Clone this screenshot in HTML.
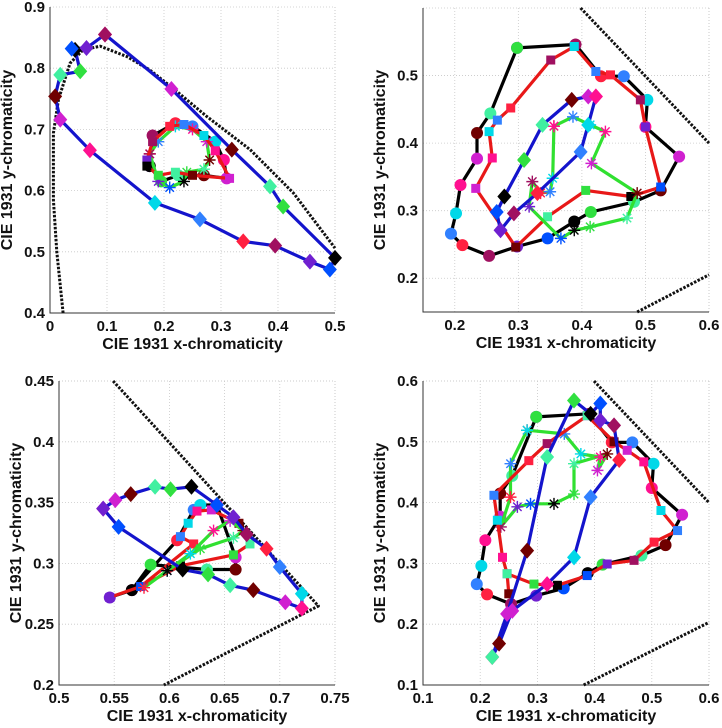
<!DOCTYPE html>
<html><head><meta charset="utf-8"><style>
body{margin:0;background:#fff;}
svg{display:block;font-family:"Liberation Sans",sans-serif;}
</style></head><body>
<svg id="chart" width="722" height="728" viewBox="0 0 722 728"></svg>
<script>
// ---- data ----
const p1Blue=[[0.0965,0.855],[0.213,0.766],[0.319,0.667],[0.386,0.607],[0.409,0.574],[0.5,0.49],[0.491,0.471],[0.456,0.484],[0.395,0.51],[0.339,0.517],[0.263,0.553],[0.184,0.58],[0.07,0.666],[0.018,0.716],[0.009,0.754],[0.018,0.789],[0.053,0.795],[0.044,0.83],[0.038,0.832],[0.064,0.833],[0.0965,0.855]];
const p1Red=[[0.17,0.65],[0.18,0.68],[0.21,0.705],[0.235,0.708],[0.27,0.69],[0.29,0.665],[0.315,0.62],[0.25,0.625],[0.22,0.63],[0.19,0.625],[0.17,0.64]];
const p1Black=[[0.175,0.64],[0.18,0.69],[0.22,0.71],[0.25,0.705],[0.29,0.68],[0.305,0.65],[0.31,0.62],[0.27,0.625],[0.225,0.625],[0.195,0.615],[0.175,0.64]];
const p1Green=[[0.175,0.66],[0.19,0.68],[0.22,0.705],[0.25,0.7],[0.275,0.68],[0.28,0.65],[0.27,0.635],[0.24,0.63],[0.235,0.615],[0.21,0.605],[0.19,0.615],[0.175,0.66]];
const p1Locus=[[0.023,0.4],[0.012,0.5],[0.006,0.585],[0.006,0.694],[0.015,0.749],[0.035,0.808],[0.058,0.83],[0.088,0.836],[0.135,0.819],[0.175,0.797],[0.216,0.767],[0.275,0.721],[0.351,0.667],[0.427,0.596],[0.5,0.506]];

const p2Black=[[0.298,0.541],[0.39,0.546],[0.43,0.499],[0.466,0.499],[0.503,0.464],[0.5,0.424],[0.553,0.38],[0.524,0.33],[0.482,0.313],[0.414,0.298],[0.388,0.284],[0.346,0.259],[0.298,0.247],[0.254,0.233],[0.212,0.249],[0.194,0.266],[0.202,0.296],[0.209,0.338],[0.235,0.377],[0.235,0.415],[0.256,0.444],[0.298,0.541]];
const p2Red=[[0.388,0.543],[0.351,0.523],[0.288,0.452],[0.267,0.434],[0.254,0.417],[0.259,0.378],[0.233,0.333],[0.296,0.246],[0.346,0.291],[0.406,0.33],[0.477,0.321],[0.524,0.335],[0.5,0.424],[0.492,0.464],[0.445,0.501],[0.422,0.506],[0.388,0.543]];
const p2Blue=[[0.422,0.469],[0.41,0.469],[0.384,0.464],[0.338,0.427],[0.309,0.375],[0.278,0.321],[0.266,0.298],[0.272,0.271],[0.293,0.296],[0.33,0.326],[0.398,0.387],[0.41,0.427],[0.422,0.469]];
const p2Green=[[0.356,0.425],[0.386,0.439],[0.413,0.427],[0.437,0.417],[0.415,0.37],[0.487,0.326],[0.471,0.289],[0.413,0.276],[0.388,0.271],[0.367,0.259],[0.317,0.306],[0.322,0.343],[0.335,0.326],[0.35,0.328],[0.354,0.348],[0.356,0.425]];
const p2Gamut=[[0.398,0.6],[0.6,0.4]];
const p2Gamut2=[[0.487,0.15],[0.6,0.205]];

const p3Blue=[[0.54,0.345],[0.551,0.352],[0.565,0.357],[0.587,0.363],[0.601,0.361],[0.62,0.363],[0.643,0.348],[0.658,0.338],[0.67,0.324],[0.688,0.312],[0.7,0.297],[0.72,0.275],[0.72,0.263],[0.705,0.268],[0.676,0.278],[0.655,0.282],[0.635,0.291],[0.612,0.295],[0.554,0.33],[0.54,0.345]];
const p3Black=[[0.546,0.272],[0.566,0.278],[0.607,0.319],[0.622,0.344],[0.628,0.348],[0.643,0.348],[0.66,0.305],[0.66,0.295],[0.634,0.295],[0.583,0.299],[0.566,0.278]];
const p3Red=[[0.546,0.272],[0.574,0.281],[0.622,0.316],[0.61,0.322],[0.617,0.333],[0.625,0.343],[0.638,0.344],[0.663,0.333],[0.673,0.316],[0.658,0.307],[0.61,0.298],[0.574,0.281]];
const p3Green=[[0.577,0.28],[0.598,0.294],[0.619,0.308],[0.64,0.327],[0.655,0.335],[0.667,0.327],[0.658,0.321],[0.628,0.312],[0.598,0.294]];
const p3Gamut=[[0.549,0.45],[0.735,0.265],[0.595,0.2]];

const p4Black=p2Black;
const p4Red=[[0.387,0.543],[0.317,0.497],[0.285,0.469],[0.224,0.412],[0.23,0.371],[0.239,0.31],[0.247,0.283],[0.25,0.25],[0.247,0.283],[0.294,0.266],[0.335,0.264],[0.387,0.28],[0.422,0.299],[0.469,0.305],[0.504,0.335],[0.545,0.354],[0.516,0.387],[0.486,0.467],[0.457,0.486],[0.434,0.5],[0.387,0.543]];
const p4Blue=[[0.221,0.146],[0.247,0.217],[0.282,0.321],[0.317,0.475],[0.364,0.568],[0.393,0.546],[0.41,0.563],[0.41,0.535],[0.434,0.527],[0.443,0.47],[0.393,0.409],[0.364,0.31],[0.317,0.266],[0.256,0.222],[0.233,0.168],[0.221,0.146]];
const p4Green=[[0.282,0.519],[0.347,0.513],[0.376,0.48],[0.41,0.475],[0.405,0.453],[0.422,0.48],[0.364,0.464],[0.364,0.414],[0.329,0.398],[0.288,0.398],[0.265,0.393],[0.236,0.36],[0.253,0.409],[0.253,0.464],[0.282,0.519]];
const p4Gamut=[[0.399,0.6],[0.6,0.4]];
const p4Gamut2=[[0.381,0.1],[0.6,0.203]];

const ticks1x=[0,0.1,0.2,0.3,0.4,0.5], ticks1y=[0.4,0.5,0.6,0.7,0.8,0.9];
const ticks2x=[0.2,0.3,0.4,0.5,0.6], ticks2y=[0.2,0.3,0.4,0.5];
const ticks3x=[0.5,0.55,0.6,0.65,0.7,0.75], ticks3y=[0.2,0.25,0.3,0.35,0.4,0.45];
const ticks4x=[0.1,0.2,0.3,0.4,0.5,0.6], ticks4y=[0.1,0.2,0.3,0.4,0.5,0.6];

const palette=['#d020d0','#0050ff','#00d8e8','#30e040','#ff2040','#700000','#7020d0','#ff1090','#000000','#3080ff','#40f0a0','#a01060'];

// ---- drawing ----
const NS='http://www.w3.org/2000/svg';
const svg=document.getElementById('chart');
function mk(tag,attrs,parent){const e=document.createElementNS(NS,tag);for(const k in attrs)e.setAttribute(k,attrs[k]);(parent||svg).appendChild(e);return e;}

const panels=[
 {name:'top-left',x0:50,x1:335,y0:7,y1:313,xmin:0,xmax:0.5,ymin:0.4,ymax:0.9,tx:ticks1x,ty:ticks1y,
  series:[{d:p1Locus,c:'#111',m:'none',dash:true},{d:p1Black,c:'#000',m:'circle'},{d:p1Green,c:'#30e030',m:'star'},{d:p1Red,c:'#e81818',m:'square'},{d:p1Blue,c:'#1414cc',m:'diamond'}]},
 {name:'top-right',x0:423,x1:709,y0:8,y1:312,xmin:0.15,xmax:0.6,ymin:0.15,ymax:0.6,tx:ticks2x,ty:ticks2y,
  series:[{d:p2Gamut,c:'#111',m:'none',dash:true},{d:p2Gamut2,c:'#111',m:'none',dash:true},{d:p2Black,c:'#000',m:'circle'},{d:p2Red,c:'#e81818',m:'square'},{d:p2Green,c:'#30e030',m:'star'},{d:p2Blue,c:'#1414cc',m:'diamond'}]},
 {name:'bottom-left',x0:59,x1:335,y0:381,y1:685,xmin:0.5,xmax:0.75,ymin:0.2,ymax:0.45,tx:ticks3x,ty:ticks3y,
  series:[{d:p3Gamut,c:'#111',m:'none',dash:true},{d:p3Black,c:'#000',m:'circle'},{d:p3Red,c:'#e81818',m:'square'},{d:p3Green,c:'#30e030',m:'star'},{d:p3Blue,c:'#1414cc',m:'diamond'}]},
 {name:'bottom-right',x0:423,x1:709,y0:381,y1:685,xmin:0.1,xmax:0.6,ymin:0.1,ymax:0.6,tx:ticks4x,ty:ticks4y,
  series:[{d:p4Gamut,c:'#111',m:'none',dash:true},{d:p4Gamut2,c:'#111',m:'none',dash:true},{d:p4Black,c:'#000',m:'circle'},{d:p4Green,c:'#30e030',m:'star'},{d:p4Red,c:'#e81818',m:'square'},{d:p4Blue,c:'#1414cc',m:'diamond'}]}
];

panels.forEach(P=>{
 const g=mk('g',{});
 
 
 const sx=v=>P.x0+(v-P.xmin)/(P.xmax-P.xmin)*(P.x1-P.x0);
 const sy=v=>P.y1-(v-P.ymin)/(P.ymax-P.ymin)*(P.y1-P.y0);
 const clip='clip-'+P.name;
 const cp=mk('clipPath',{id:clip},g);mk('rect',{x:P.x0-8,y:P.y0-8,width:P.x1-P.x0+16,height:P.y1-P.y0+16},cp);
 P.tx.forEach(t=>{const l=mk('line',{x1:sx(t),x2:sx(t),y1:P.y0,y2:P.y1,stroke:'#c8c8c8','stroke-width':0.8,'stroke-dasharray':'1,2'},g);
  });
 P.ty.forEach(t=>{const l=mk('line',{x1:P.x0,x2:P.x1,y1:sy(t),y2:sy(t),stroke:'#c8c8c8','stroke-width':0.8,'stroke-dasharray':'1,2'},g);
  });
 if(P.name!=='top-left'){mk('line',{x1:P.x0,x2:P.x1,y1:P.y0,y2:P.y0,stroke:'#c8c8c8','stroke-width':0.8,'stroke-dasharray':'1,2'},g);}
 mk('line',{x1:P.x1,x2:P.x1,y1:P.y0,y2:P.y1,stroke:'#c8c8c8','stroke-width':0.8,'stroke-dasharray':'1,2'},g);
 const ax=mk('path',{d:`M${P.x0},${P.y0}V${P.y1}H${P.x1}`,fill:'none',stroke:'#333','stroke-width':1},g);
 
 P.tx.forEach(t=>{const e=mk('text',{x:sx(t),y:P.y1+18,'text-anchor':'middle','font-size':15,'font-weight':'bold',fill:'#111'},g);e.textContent=String(t);
  });
 P.ty.forEach(t=>{const e=mk('text',{x:P.x0-5,y:sy(t)+5,'text-anchor':'end','font-size':15,'font-weight':'bold',fill:'#111'},g);e.textContent=String(t);
  });
 const xl=mk('text',{x:(P.x0+P.x1)/2,y:P.y1+36,'text-anchor':'middle','font-size':16,'font-weight':'bold',fill:'#111'},g);
 xl.textContent='CIE 1931 x-chromaticity';
 
 const yx=P.x0-38, yy=(P.y0+P.y1)/2;
 const yl=mk('text',{x:yx,y:yy,'text-anchor':'middle','font-size':16,'font-weight':'bold',fill:'#111',transform:`rotate(-90 ${yx} ${yy})`},g);
 yl.textContent='CIE 1931 y-chromaticity';
 
 const pg=mk('g',{'clip-path':`url(#${clip})`},g);
 P.series.forEach(S=>{
  const pts=S.d.map(p=>sx(p[0]).toFixed(1)+','+sy(p[1]).toFixed(1)).join(' ');
  const line=mk('polyline',{points:pts,fill:'none',stroke:S.c,'stroke-width':S.dash?3:3.2,'stroke-linejoin':'round'},pg);
  if(S.dash)line.setAttribute('stroke-dasharray','2.5,1.5');
  
  
  if(S.m==='none')return;
  S.d.forEach((p,i)=>{
   const cx=sx(p[0]),cy=sy(p[1]),col=palette[(i*5+S.m.length)%palette.length];let e;
   if(S.m==='circle')e=mk('circle',{cx,cy,r:6,fill:col},pg);
   else if(S.m==='square')e=mk('rect',{x:cx-4.5,y:cy-4.5,width:9,height:9,fill:col},pg);
   else if(S.m==='diamond')e=mk('polygon',{points:`${cx},${cy-8} ${cx+7},${cy} ${cx},${cy+8} ${cx-7},${cy}`,fill:col},pg);
   else{e=mk('path',{d:`M${cx-6},${cy}H${cx+6}M${cx},${cy-6}V${cy+6}M${cx-4.2},${cy-4.2}L${cx+4.2},${cy+4.2}M${cx-4.2},${cy+4.2}L${cx+4.2},${cy-4.2}`,stroke:col,'stroke-width':1.4,fill:'none'},pg);}
   
   
  });
 });
});
</script>
</body></html>
